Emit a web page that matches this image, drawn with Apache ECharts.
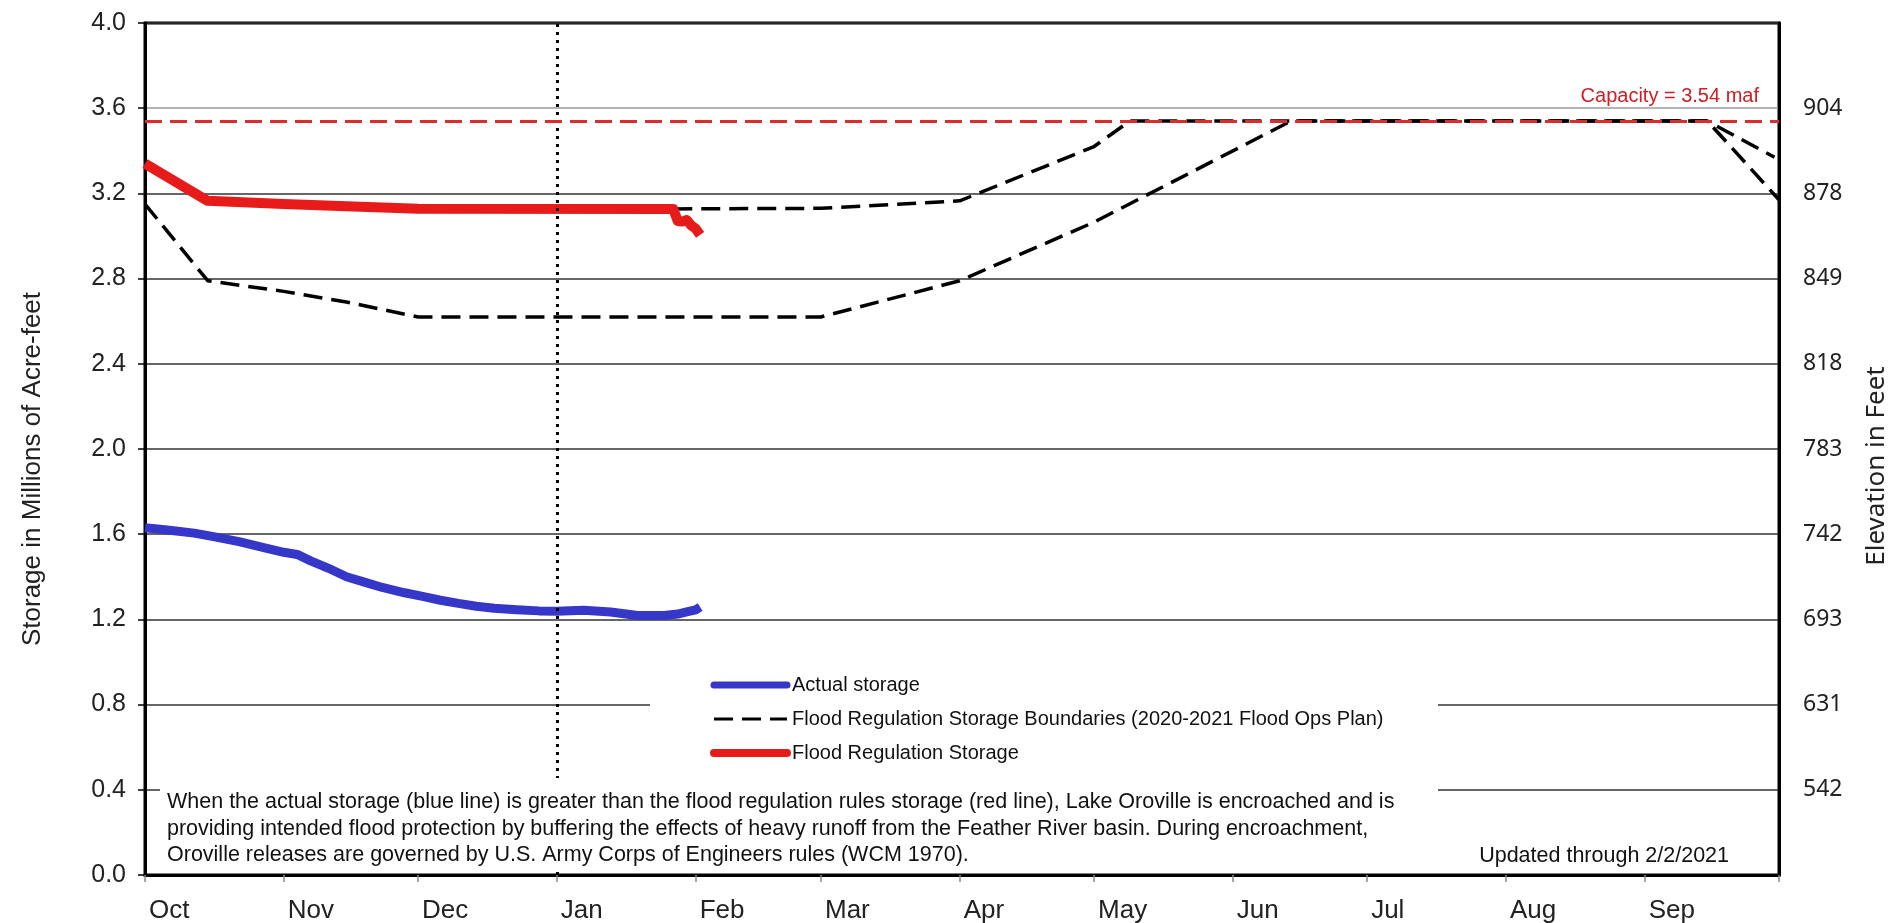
<!DOCTYPE html>
<html>
<head>
<meta charset="utf-8">
<script src="https://cdn.jsdelivr.net/npm/echarts@6/dist/echarts.min.js"></script>
<style>
html,body{margin:0;padding:0;background:#fff;}
#chart{width:1896px;height:923px;}
</style>
</head>
<body>
<div id="chart"></div>
<script>
// ---------- data ----------
const monthNames = ['Jan','Feb','Mar','Apr','May','Jun','Jul','Aug','Sep','Oct','Nov','Dec'];
const storageTicks = [0, 0.4, 0.8, 1.2, 1.6, 2.0, 2.4, 2.8, 3.2, 3.6, 4.0];
const elevationLabels = ['', '542', '631', '693', '742', '783', '818', '849', '878', '904', ''];
const capacity = 3.54;
const dividerDate = '2021-01-01';

const actualStorage = [
  ['2020-10-01',1.630],['2020-10-06',1.620],['2020-10-12',1.605],['2020-10-16',1.590],
  ['2020-10-22',1.565],['2020-10-28',1.535],['2020-11-01',1.515],['2020-11-04',1.505],
  ['2020-11-07',1.475],['2020-11-11',1.440],['2020-11-15',1.400],['2020-11-19',1.375],
  ['2020-11-23',1.350],['2020-11-28',1.325],['2020-12-02',1.308],['2020-12-06',1.290],
  ['2020-12-10',1.275],['2020-12-14',1.262],['2020-12-18',1.252],['2020-12-23',1.245],
  ['2020-12-28',1.240],['2021-01-01',1.238],['2021-01-07',1.243],['2021-01-13',1.235],
  ['2021-01-19',1.218],['2021-01-25',1.218],['2021-01-28',1.225],['2021-01-30',1.235],
  ['2021-02-01',1.245],['2021-02-02',1.258]
];
const floodRegStorage = [
  ['2020-10-01',3.340],['2020-10-15',3.165],['2020-11-01',3.150],['2020-11-15',3.140],
  ['2020-12-01',3.128],['2021-01-27',3.127],['2021-01-28',3.070],['2021-01-29',3.068],
  ['2021-01-30',3.075],['2021-01-31',3.050],['2021-02-01',3.035],['2021-02-02',3.005]
];
const boundaryUpper = [
  ['2021-01-27',3.127],['2021-03-01',3.130],['2021-04-01',3.165],['2021-05-01',3.420],
  ['2021-05-09',3.540],['2021-09-15',3.540],['2021-09-30',3.370]
];
const boundaryLower = [
  ['2020-10-01',3.150],['2020-10-15',2.790],['2020-11-01',2.740],['2020-11-15',2.690],
  ['2020-12-01',2.620],['2021-03-01',2.620],['2021-04-01',2.790],['2021-05-01',3.065],
  ['2021-06-14',3.540],['2021-09-15',3.540],['2021-10-01',3.170]
];
const noteLines = [
  'When the actual storage (blue line) is greater than the flood regulation rules storage (red line), Lake Oroville is encroached and is',
  'providing intended flood protection by buffering the effects of heavy runoff from the Feather River basin. During encroachment,',
  'Oroville releases are governed by U.S. Army Corps of Engineers rules (WCM 1970).'
];
const updatedText = 'Updated through 2/2/2021';

// ---------- chart ----------
const FONT = '"Liberation Sans", Arial, sans-serif';
const FONT2 = '"Noto Sans", "Open Sans", sans-serif';
const BOUND_NAME = 'Flood Regulation Storage Boundaries (2020-2021 Flood Ops Plan)';
function ts(s){ const p = s.split('-').map(Number); return new Date(p[0], p[1]-1, p[2]).getTime(); }
const xMin = ts('2020-10-01'), xMax = ts('2021-10-01');

const gridColors = storageTicks.map(v => Math.abs(v - 3.6) < 1e-6 ? '#9a9a9a' : '#333333');

const chart = echarts.init(document.getElementById('chart'), null, {renderer:'canvas'});
chart.setOption({
  animation: false,
  backgroundColor: '#fff',
  grid: {left:145, right:117, top:23, bottom:48, show:true, borderColor:'#000', borderWidth:3,
         backgroundColor:'transparent', containLabel:false, outerBoundsMode:'none'},
  xAxis: {
    type:'time', min: xMin, max: xMax,
    splitNumber: 12, minInterval: 28*864e5, maxInterval: 31*864e5,
    axisLine:{show:true, lineStyle:{color:'#000', width:3}},
    axisTick:{show:true, length:7, lineStyle:{color:'#888', width:1.5}},
    splitLine:{show:false},
    axisLabel:{
      formatter: v => (v >= xMax - 864e5) ? '' : monthNames[new Date(v).getMonth()],
      align:'left', padding:[0,0,0,4], margin:23, fontSize:26, color:'#222',
      fontFamily: FONT, fontWeight:'normal', showMaxLabel:false, showMinLabel:true, hideOverlap:false
    }
  },
  yAxis: [{
    type:'value', min:0, max:4, interval:0.4, position:'left',
    name:'Storage in Millions of Acre-feet', nameLocation:'middle', nameGap:99,
    nameTextStyle:{fontSize:26, color:'#222', fontFamily: FONT, padding:[0,40,0,0]},
    axisLine:{show:true, lineStyle:{color:'#000', width:3}},
    axisTick:{show:true, length:7, lineStyle:{color:'#000', width:1.5}},
    axisLabel:{formatter: v => v.toFixed(1), fontSize:25, color:'#222', margin:19, fontFamily: FONT},
    splitLine:{show:true, lineStyle:{color: gridColors, width:1.5}}
  },{
    type:'value', min:0, max:4, interval:0.4, position:'right',
    name:'Elevation in Feet', nameLocation:'middle', nameGap:85,
    nameTextStyle:{fontSize:26, color:'#222', fontFamily: FONT2, padding:[0,34,0,0]},
    axisLine:{show:true, lineStyle:{color:'#000', width:3}},
    axisTick:{show:false},
    axisLabel:{formatter: v => elevationLabels[Math.round(v/0.4)] || '', fontSize:23, color:'#222', margin:24, fontFamily: FONT2},
    splitLine:{show:false}
  }],
  legend: {
    orient:'vertical', left:710, top:673, padding:0, itemWidth:73, itemHeight:12, itemGap:10,
    selectedMode:false, z:10,
    textStyle:{fontSize:20, color:'#111', fontFamily: FONT, lineHeight:24},
    data:[
      {name:'Actual storage', itemStyle:{opacity:0}, lineStyle:{width:7, cap:'round'}},
      {name:BOUND_NAME, itemStyle:{opacity:0}, lineStyle:{width:3}},
      {name:'Flood Regulation Storage', itemStyle:{opacity:0}, lineStyle:{width:8, cap:'round'}}
    ]
  },
  graphic: [
    {type:'rect', z:8, silent:true, shape:{x:650, y:662, width:788, height:106}, style:{fill:'#fff'}},
    {type:'rect', z:8, silent:true, shape:{x:160, y:778, width:1278, height:93}, style:{fill:'#fff'}},
    {type:'text', z:9, silent:true, x:167, y:789,
      style:{text: noteLines.join('\n'), font:'21.5px "Liberation Sans", Arial, sans-serif', lineHeight:26.5, fill:'#111'}},
    {type:'text', z:9, silent:true, x:1729, y:856,
      style:{text: updatedText, font:'21.5px "Liberation Sans", Arial, sans-serif', fill:'#111', align:'right', verticalAlign:'middle'}}
  ],
  series: [
    {
      name:'Actual storage', type:'line', data: actualStorage, symbol:'none', z:3,
      lineStyle:{color:'#3636c8', width:9, join:'round', cap:'butt'}, itemStyle:{color:'#3636c8'},
      markLine:{symbol:['none','none'], silent:true, label:{show:false}, z:4,
        lineStyle:{color:'#000', type:[3,5], width:3, cap:'butt'},
        data:[{xAxis: ts(dividerDate)}]}
    },
    {
      name:BOUND_NAME, type:'line', data: boundaryUpper, symbol:'none', z:2,
      lineStyle:{color:'#000', width:3.5, type:[19,9]}, itemStyle:{color:'#000'}
    },
    {
      name:BOUND_NAME, type:'line', data: boundaryLower, symbol:'none', z:2,
      lineStyle:{color:'#000', width:3.5, type:[19,9]}, itemStyle:{color:'#000'}
    },
    {
      name:'Flood Regulation Storage', type:'line', data: floodRegStorage, symbol:'none', z:3,
      lineStyle:{color:'#e81b1b', width:10, join:'round', cap:'butt'}, itemStyle:{color:'#e81b1b'},
      markLine:{symbol:['none','none'], silent:true, z:5,
        lineStyle:{color:'#dc2c2c', type:[17,8], width:2.8},
        label:{show:true, position:'insideEndTop', formatter:'Capacity = 3.54 maf', color:'#cc2027',
               fontSize:20, fontFamily: FONT, distance:[20,14]},
        data:[{yAxis: capacity}]}
    }
  ]
});
</script>
</body>
</html>
